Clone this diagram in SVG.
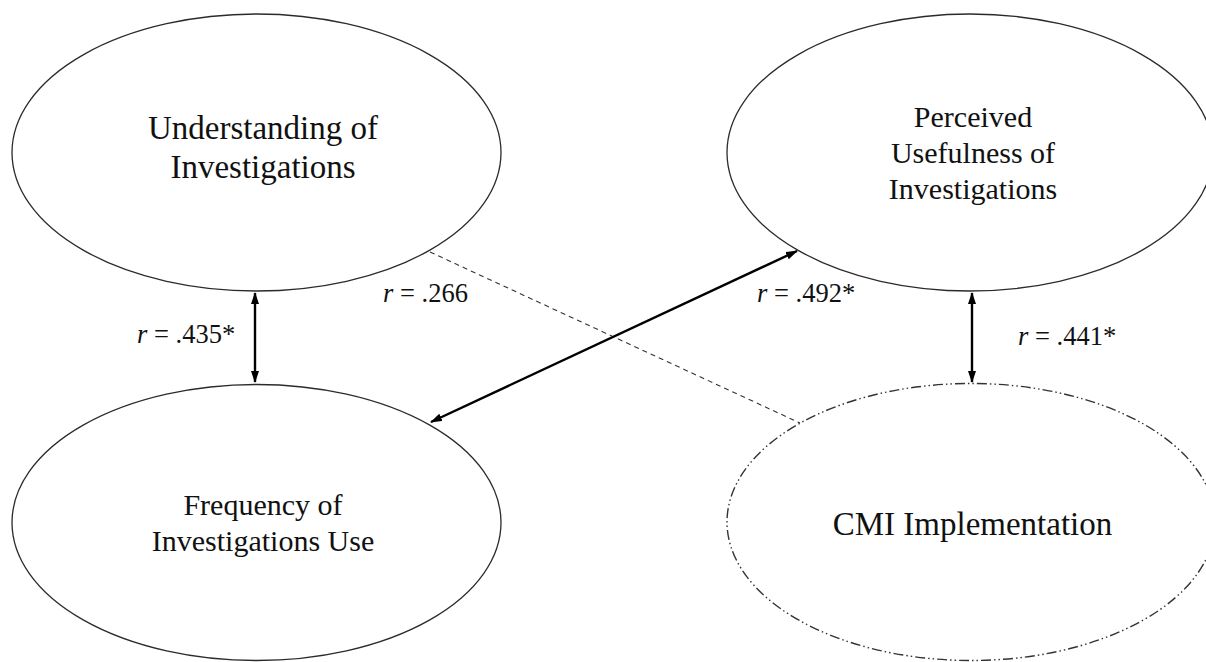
<svg xmlns="http://www.w3.org/2000/svg" width="1206" height="662" viewBox="0 0 1206 662">
  <style>
    .node { fill: #ffffff; stroke: #2b2b2b; stroke-width: 1.3; }
    .node-dashdot { fill: #ffffff; stroke: #333333; stroke-width: 1.4; stroke-dasharray: 10 3 1.5 3 1.5 3; }
    .label { font-family: "Liberation Serif", "Times New Roman", serif; fill: #111111; text-anchor: middle; }
    .coef { font-family: "Liberation Serif", "Times New Roman", serif; fill: #111111; font-size: 26.5px; }
    .arrow { stroke: #000000; stroke-width: 2.4; fill: none; marker-start: url(#head); marker-end: url(#head); }
    .dashed { stroke: #333333; stroke-width: 1.1; fill: none; stroke-dasharray: 5 4; }
  </style>
  <defs>
    <marker id="head" viewBox="0 0 12 8" refX="11" refY="4" markerWidth="12" markerHeight="8" markerUnits="userSpaceOnUse" orient="auto-start-reverse">
      <path d="M0,0 L12,4 L0,8 z" fill="#000000"/>
    </marker>
  </defs>
  <rect width="1206" height="662" fill="#ffffff"/>

  <!-- connectors -->
  <g id="connectors">
    <line class="dashed" x1="430" y1="252" x2="800" y2="423"/>
    <line class="arrow" x1="255" y1="293" x2="255" y2="382"/>
    <line class="arrow" x1="431" y1="422" x2="797" y2="251"/>
    <line class="arrow" x1="972" y1="293" x2="972" y2="382"/>
  </g>

  <g id="understanding">
    <ellipse class="node" cx="256.5" cy="152.5" rx="244.5" ry="138.5"/>
    <text class="label" font-size="33" x="263" y="139">Understanding of</text>
    <text class="label" font-size="33" x="263" y="178">Investigations</text>
  </g>

  <g id="usefulness">
    <ellipse class="node" cx="970" cy="152.5" rx="243" ry="138.5"/>
    <text class="label" font-size="30" x="973" y="127">Perceived</text>
    <text class="label" font-size="30" x="973" y="163">Usefulness of</text>
    <text class="label" font-size="30" x="973" y="199">Investigations</text>
  </g>

  <g id="frequency">
    <ellipse class="node" cx="256.5" cy="522.5" rx="244.5" ry="138"/>
    <text class="label" font-size="30" x="263" y="515">Frequency of</text>
    <text class="label" font-size="30" x="263" y="551">Investigations Use</text>
  </g>

  <g id="cmi">
    <ellipse class="node-dashdot" cx="971" cy="522" rx="244" ry="138.5"/>
    <text class="label" font-size="33" x="972.5" y="535">CMI Implementation</text>
  </g>

  <!-- correlation coefficients -->
  <g id="coefficients">
    <text class="coef" x="137" y="343"><tspan font-style="italic">r</tspan> = .435*</text>
    <text class="coef" x="383" y="302"><tspan font-style="italic">r</tspan> = .266</text>
    <text class="coef" x="757" y="302"><tspan font-style="italic">r</tspan> = .492*</text>
    <text class="coef" x="1018" y="345"><tspan font-style="italic">r</tspan> = .441*</text>
  </g>
</svg>
